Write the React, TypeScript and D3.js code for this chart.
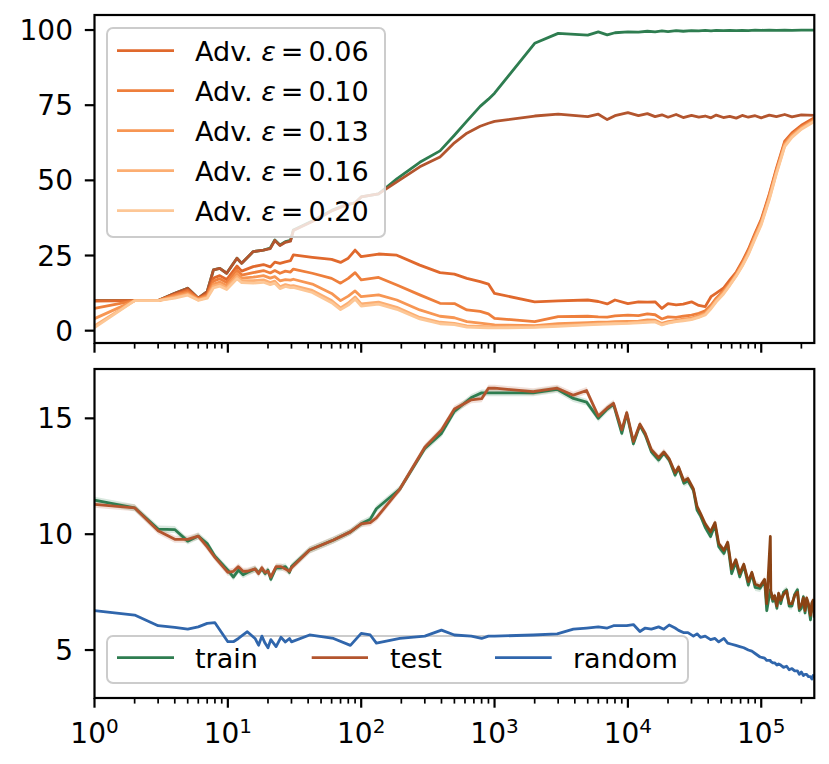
import * as d3 from "d3"

// top panel: accuracy (%) vs. step
const topSteps = [
  1, 2, 3, 4, 5, 6, 7, 7.8, 8.7, 9.8, 11.7, 12.7, 15.5, 18.5, 20.8, 22.5, 24.6, 27, 29.5, 31,
  43, 60, 70, 80, 90, 100, 135, 185, 275, 390, 500, 620, 780, 900, 1000, 2000, 3000, 5000,
  6000, 7000, 8000, 10000, 12000, 14000, 16000, 18000, 20000, 23000, 26000, 30000, 34000,
  38000, 42000, 46000, 52000, 58000, 65000, 72000, 80000, 90000, 100000, 115000, 130000,
  150000, 170000, 200000, 250000,
]
const trainAcc = [
  10, 10, 10, 12.4, 14.1, 10.8, 13, 20.2, 20.7, 19.1, 24.1, 22.4, 26.3, 26.8, 27.5, 30.2, 28.5, 29.6, 30, 33.5,
  36.5, 40, 41.2, 42, 42.5, 44.5, 45.5, 50.5, 56, 59.8, 65, 69.7, 74.6, 77, 79, 95.6, 98.9, 98.3,
  99.4, 98.4, 99.1, 99.4, 99.3, 99.6, 99.4, 99.7, 99.5, 99.8, 99.6, 99.8, 99.7,
  99.9, 99.7, 99.9, 99.8, 99.9, 99.8, 99.9, 99.8, 100, 99.9, 100, 99.9,
  100, 99.9, 100, 100,
]
const testAcc = [
  10, 10, 10, 12.4, 14.1, 10.8, 13, 20.2, 20.7, 19.1, 24.1, 22.4, 26.3, 26.8, 27.3, 30, 28.3, 29.4, 29.8, 33.3,
  36.3, 39.8, 41, 42, 42.5, 44.5, 45.5, 49.5, 54.5, 57.8, 62.5, 65.7, 68, 69, 69.6, 71.4, 72, 71.2,
  72, 70.2, 71.5, 72.5, 71.5, 72.2, 71.2, 71.8, 71, 71.9, 70.9, 71.6, 71,
  71.4, 70.8, 71.7, 70.9, 71.3, 70.7, 71.6, 71, 71.5, 70.8, 71.7, 71.2,
  71.9, 71.1, 71.8, 71.6,
]
const adv006 = [
  9.8, 10, 10, 12, 13.5, 10.7, 12.2, 17.5, 18.3, 17, 21.5, 19.8, 21.3, 22, 21.2, 22.8, 22.4, 22.9, 23.3, 25.2,
  24.4, 23.7, 22.7, 24.1, 26.8, 24.6, 25.5, 25.1, 21.8, 19.3, 18.8, 17.4, 16.3, 15.5, 12.4, 9.6, 9.9, 10.2,
  9.7, 8.9, 10.2, 9.0, 9.6, 9.5, 9.6, 7.4, 9.0, 8.6, 8.8, 9.6, 8.4,
  8.0, 11.3, 12.5, 14.1, 16.8, 19.5, 23, 27, 32.5, 37, 45.5, 54,
  63, 65.8, 68.3, 70.8,
]
const adv010 = [
  7.4, 10, 10, 11.8, 13, 10.6, 11.8, 16.5, 17.3, 16, 20.2, 18.5, 19.3, 20, 19.2, 20, 19.1, 19.8, 19.5, 20.5,
  19.1, 17.4, 15.8, 17.4, 19.3, 16.9, 17.7, 15.2, 11.9, 9.1, 9.0, 6.9, 6.4, 5.6, 4.1, 3.0, 4.7, 4.8,
  4.6, 4.5, 4.9, 5.2, 5.0, 5.6, 5.3, 3.9, 4.6, 4.4, 4.8, 5.2, 5.8,
  6.6, 8.5, 10.8, 13.2, 15.8, 19.0, 22.5, 26.5, 32, 36.5, 45, 53.5,
  62.5, 65.3, 67.8, 70.3,
]
const adv013 = [
  4.0, 10, 10, 11.4, 12.5, 10.4, 11.4, 15.5, 16.2, 15, 19, 17.5, 17.8, 18.3, 17.5, 18, 16.6, 17, 16.8, 17.1,
  15.5, 12.4, 10.0, 11.5, 13.2, 11.3, 11.9, 10.2, 6.9, 4.8, 4.3, 3.0, 2.5, 2.2, 1.9, 1.7, 2.3, 2.7,
  2.8, 2.8, 3.0, 3.1, 3.2, 3.6, 3.5, 2.4, 3.0, 3.4, 3.8, 4.2, 5.0,
  5.9, 8.0, 10.3, 12.8, 15.5, 18.7, 22, 26, 31.5, 36, 44.5, 53,
  62, 65, 67.5, 70,
]
const adv016 = [
  1.6, 10, 10, 11.1, 12.1, 10.2, 11.1, 14.8, 15.4, 14.3, 18, 16.7, 16.6, 16.9, 16, 16.5, 14.6, 15.3, 14.9, 15.0,
  13.4, 10.0, 7.6, 9.2, 11.2, 8.9, 9.5, 7.8, 4.4, 2.8, 2.4, 1.6, 1.4, 1.3, 1.2, 1.3, 1.7, 2.1,
  2.3, 2.4, 2.5, 2.6, 2.8, 3.0, 3.1, 2.1, 2.7, 3.2, 3.5, 3.9, 4.6,
  5.5, 7.6, 9.9, 12.4, 15.2, 18.4, 21.7, 25.6, 31, 35.6, 44, 52.6,
  61.6, 64.6, 67.2, 69.8,
]
const adv020 = [
  1.0, 10, 10, 10.8, 11.8, 10.1, 10.8, 14.2, 14.8, 13.7, 17.3, 16, 15.8, 16.1, 15.3, 15.8, 14.0, 14.7, 14.3, 14.4,
  12.7, 9.3, 7.0, 8.5, 10.5, 8.2, 8.8, 7.1, 3.9, 2.3, 2.0, 1.2, 1.0, 0.9, 0.9, 1.1, 1.4, 1.9,
  2.1, 2.2, 2.3, 2.4, 2.6, 2.8, 2.9, 1.9, 2.5, 3.0, 3.3, 3.7, 4.4,
  5.2, 7.3, 9.6, 12.1, 15, 18.2, 21.4, 25.3, 30.6, 35.2, 43.6, 52.2,
  61.2, 64.3, 67, 69.6,
]
const advSeries = [adv006, adv010, adv013, adv016, adv020]
const epsLabels = ["0.06", "0.10", "0.13", "0.16", "0.20"]
const advColors = ["#e0692d", "#ee7f3c", "#f79653", "#fcae72", "#fdc796"]

// bottom panel
const bottomSteps = [
  1, 2, 3, 4, 5, 6, 7, 8, 10, 11, 12, 13, 14, 16, 17, 18, 19, 20, 21, 23, 25, 27, 29, 30,
  41, 62, 83, 100, 117, 130, 195, 300, 400, 500, 670, 800, 900, 1000,
  1950, 2950, 3900, 4900, 6000, 7000, 7800, 9000, 9800, 11000,
  12300, 13500, 15000, 17000, 18600, 20400, 22600, 24000, 26300, 28200,
  31000, 33000, 35000, 38000, 41700, 45000, 48000, 52500, 56000, 60000,
  64500, 69000, 74000, 80000, 85000, 90000, 98000, 106000, 110000, 117000,
  118000, 122000, 126000, 131000, 135000, 140000, 147000, 155000, 162000, 170000, 178000,
  187000, 193000, 200000, 207000, 213000, 219000, 226000, 234000, 240000, 245000, 250000,
]
const trainVal = [
  11.47, 11.14, 10.22, 10.2, 9.7, 9.92, 9.6, 9.05, 8.45, 8.15, 8.45, 8.25, 8.35, 8.5, 8.35, 8.5, 8.3, 8.45, 8.05, 8.55, 8.55, 8.6, 8.35, 8.6,
  9.32, 9.75, 10.1, 10.45, 10.65, 11.1, 11.95, 13.7, 14.35, 15.3, 15.9, 16.1, 16.1, 16.1,
  16.1, 16.25, 15.86, 15.7, 15.0, 15.4, 15.6, 14.35, 15.2, 13.9,
  14.7, 14.28, 13.56, 13.2, 13.5, 13.2, 12.55, 12.85, 12.2, 12.3,
  11.9, 11.04, 10.8, 10.3, 9.9, 10.4, 9.46, 9.17, 9.6, 8.3,
  8.8, 8.16, 8.65, 7.8, 8.3, 7.7, 7.66, 8.0, 6.7, 7.6,
  7.5, 7.1, 7.3, 6.8, 7.4, 7.0, 7.5, 7.6, 6.9, 6.9, 7.4,
  7.6, 6.7, 6.8, 7.3, 6.6, 7.2, 6.9, 6.3, 7.0, 7.1, 6.6,
]
const testVal = [
  11.29, 11.14, 10.15, 9.78, 9.78, 9.92, 9.45, 9.0, 8.35, 8.4, 8.6, 8.4, 8.4, 8.5, 8.3, 8.55, 8.35, 8.4, 8.15, 8.6, 8.6, 8.5, 8.4, 8.55,
  9.32, 9.75, 10.1, 10.45, 10.5, 10.7, 11.95, 13.75, 14.5, 15.4, 15.8, 15.85, 16.3, 16.3,
  16.15, 16.3, 16.0, 16.2, 15.1, 15.45, 15.65, 14.5, 15.25, 14.0,
  14.75, 14.35, 13.65, 13.3, 13.55, 13.25, 12.65, 12.9, 12.3, 12.4,
  11.95, 11.2, 10.9, 10.45, 10.1, 10.5, 9.6, 9.3, 9.65, 8.5,
  8.9, 8.3, 8.7, 7.95, 8.35, 7.85, 7.75, 8.05, 7.0, 9.9,
  7.55, 7.2, 7.35, 6.9, 7.45, 7.15, 7.4, 7.55, 7.0, 7.0, 7.35,
  7.5, 6.8, 6.95, 7.25, 6.7, 7.25, 7.0, 6.5, 7.05, 7.15, 6.4,
]
const randomVal = [
  6.7, 6.51, 6.05, 5.98, 5.9, 6.0, 6.15, 6.18, 5.36, 5.36, 5.5, 5.65, 5.79, 5.5, 5.21, 5.6, 5.3, 5.1, 5.45, 5.15, 5.55, 5.35, 5.5, 5.35,
  5.65, 5.5, 5.2, 5.72, 5.65, 5.3, 5.5, 5.6, 5.86, 5.65, 5.6, 5.5, 5.6, 5.6,
  5.65, 5.7, 5.9, 5.95, 6.0, 5.95, 6.05, 6.05, 6.05, 6.1,
  5.8, 5.95, 5.9, 6.0, 5.9, 6.08, 5.95, 5.85, 5.75, 5.75,
  5.6, 5.7, 5.55, 5.6, 5.45, 5.5, 5.35, 5.5, 5.3, 5.25,
  5.2, 5.15, 5.1, 5.0, 4.95, 4.85, 4.7, 4.65, 4.55, 4.55,
  4.5, 4.45, 4.45, 4.35, 4.4, 4.35, 4.25, 4.3, 4.15, 4.2, 4.1,
  4.1, 3.95, 4.05, 3.9, 3.95, 3.95, 3.85, 3.85, 3.75, 3.9, 3.8,
]

const topTicks = [0, 25, 50, 75, 100]
const bottomTicks = [5, 10, 15]
const decades = [0, 1, 2, 3, 4, 5]

const W = 829
const H = 764
const left = 94.5
const right = 814.3
const font = "DejaVu Sans"
const green = "#2e7d50"
const brown = "#b3552e"
const blue = "#3066ac"

const x = d3.scaleLog().domain([1, 250000]).range([left, right])
const yTop = d3.scaleLinear().domain([-4.1, 105]).range([343, 15])
const yBot = d3.scaleLinear().domain([2.93, 17.13]).range([698, 369])

const minorTicks: number[] = []
decades.forEach((d) => {
  for (let m = 2; m <= 9; m++) {
    const v = m * Math.pow(10, d)
    if (v <= 250000) minorTicks.push(v)
  }
})

function XTicks({ y0, labels }: { y0: number; labels: boolean }) {
  return (
    <g>
      {minorTicks.map((v) => (
        <line key={"m" + v} x1={x(v)} x2={x(v)} y1={y0} y2={y0 + 5.6} stroke="#000" strokeWidth={1.7} />
      ))}
      {decades.map((d) => (
        <g key={d}>
          <line x1={x(Math.pow(10, d))} x2={x(Math.pow(10, d))} y1={y0} y2={y0 + 9.7} stroke="#000" strokeWidth={2.2} />
          {labels && (
            <text x={x(Math.pow(10, d))} y={743} textAnchor="middle" fontSize={28} fontFamily={font}>
              10
              <tspan dy={-10.5} fontSize={20}>
                {d}
              </tspan>
            </text>
          )}
        </g>
      ))}
    </g>
  )
}

function YTicks({ scale, ticks }: { scale: d3.ScaleLinear<number, number>; ticks: number[] }) {
  return (
    <g>
      {ticks.map((t) => (
        <g key={t}>
          <line x1={left - 9.7} x2={left} y1={scale(t)} y2={scale(t)} stroke="#000" strokeWidth={2.2} />
          <text x={73} y={scale(t) + 10} textAnchor="end" fontSize={28} fontFamily={font}>
            {t}
          </text>
        </g>
      ))}
    </g>
  )
}

export default function App() {
  const lineTop = (vals: number[]) =>
    d3
      .line<number>()
      .x((_, i) => x(topSteps[i]))
      .y((v) => yTop(v))(vals) || ""
  const lineBot = (vals: number[]) =>
    d3
      .line<number>()
      .x((_, i) => x(bottomSteps[i]))
      .y((v) => yBot(v))(vals) || ""
  const band = (vals: number[]) =>
    d3
      .area<number>()
      .x((_, i) => x(bottomSteps[i]))
      .y0((v) => yBot(v - 0.15))
      .y1((v) => yBot(v + 0.15))(vals) || ""

  return (
    <div style={{ position: "absolute", left: 0, top: 0 }}>
      <svg width={W} height={H} style={{ display: "block", background: "#fff" }}>
        <defs>
          <clipPath id="clipTop">
            <rect x={left} y={15} width={right - left} height={328} />
          </clipPath>
          <clipPath id="clipBot">
            <rect x={left} y={369} width={right - left} height={329} />
          </clipPath>
          <linearGradient id="testGrad" gradientUnits="userSpaceOnUse" x1={x(5000)} x2={x(40000)} y1={0} y2={0}>
            <stop offset="0" stopColor={brown} />
            <stop offset="1" stopColor="#8b4314" />
          </linearGradient>
        </defs>

        {/* top panel */}
        <g clipPath="url(#clipTop)" fill="none" strokeWidth={2.8} strokeLinejoin="round">
          <path d={lineTop(trainAcc)} stroke={green} />
          <path d={lineTop(testAcc)} stroke={brown} />
          {advSeries.map((s, i) => (
            <path key={i} d={lineTop(s)} stroke={advColors[i]} />
          ))}
        </g>
        <rect x={left} y={15} width={right - left} height={328} fill="none" stroke="#000" strokeWidth={2.2} />
        <YTicks scale={yTop} ticks={topTicks} />
        <XTicks y0={343} labels={false} />

        <g>
          <rect x={107} y={28} width={278} height={209} rx={6} fill="#fff" fillOpacity={0.8} stroke="#cccccc" strokeWidth={2} />
          {epsLabels.map((e, i) => {
            const yy = 50.7 + i * 40
            return (
              <g key={e}>
                <line x1={117} x2={174} y1={yy} y2={yy} stroke={advColors[i]} strokeWidth={2.8} />
                <text x={195} y={yy + 10} fontSize={27} fontFamily={font}>
                  Adv.{" "}
                  <tspan fontStyle="italic">ε</tspan>
                  <tspan dx={5}>=</tspan>
                  <tspan dx={5}>{e}</tspan>
                </text>
              </g>
            )
          })}
        </g>

        {/* bottom panel */}
        <g clipPath="url(#clipBot)" strokeLinejoin="round">
          <path d={band(trainVal)} fill={green} fillOpacity={0.18} />
          <path d={band(testVal)} fill={brown} fillOpacity={0.18} />
          <path d={lineBot(trainVal)} fill="none" stroke={green} strokeWidth={2.8} />
          <path d={lineBot(testVal)} fill="none" stroke="url(#testGrad)" strokeWidth={2.8} />
        </g>

        <g>
          <rect x={107} y={636} width={581} height={47} rx={6} fill="#fff" fillOpacity={0.8} stroke="#cccccc" strokeWidth={2} />
          <line x1={117} x2={174} y1={657.7} y2={657.7} stroke={green} strokeWidth={2.8} />
          <text x={195} y={667.5} fontSize={27} fontFamily={font}>train</text>
          <line x1={311.7} x2={368} y1={657.7} y2={657.7} stroke={brown} strokeWidth={2.8} />
          <text x={390} y={667.5} fontSize={27} fontFamily={font}>test</text>
          <line x1={495} x2={551.7} y1={657.7} y2={657.7} stroke={blue} strokeWidth={2.8} />
          <text x={573} y={667.5} fontSize={27} fontFamily={font}>random</text>
        </g>

        {/* random line sits above the legend frame, as in the original */}
        <g clipPath="url(#clipBot)" strokeLinejoin="round">
          <path d={lineBot(randomVal)} fill="none" stroke={blue} strokeWidth={2.8} />
        </g>
        <rect x={left} y={369} width={right - left} height={329} fill="none" stroke="#000" strokeWidth={2.2} />
        <YTicks scale={yBot} ticks={bottomTicks} />
        <XTicks y0={698} labels={true} />
      </svg>
    </div>
  )
}
